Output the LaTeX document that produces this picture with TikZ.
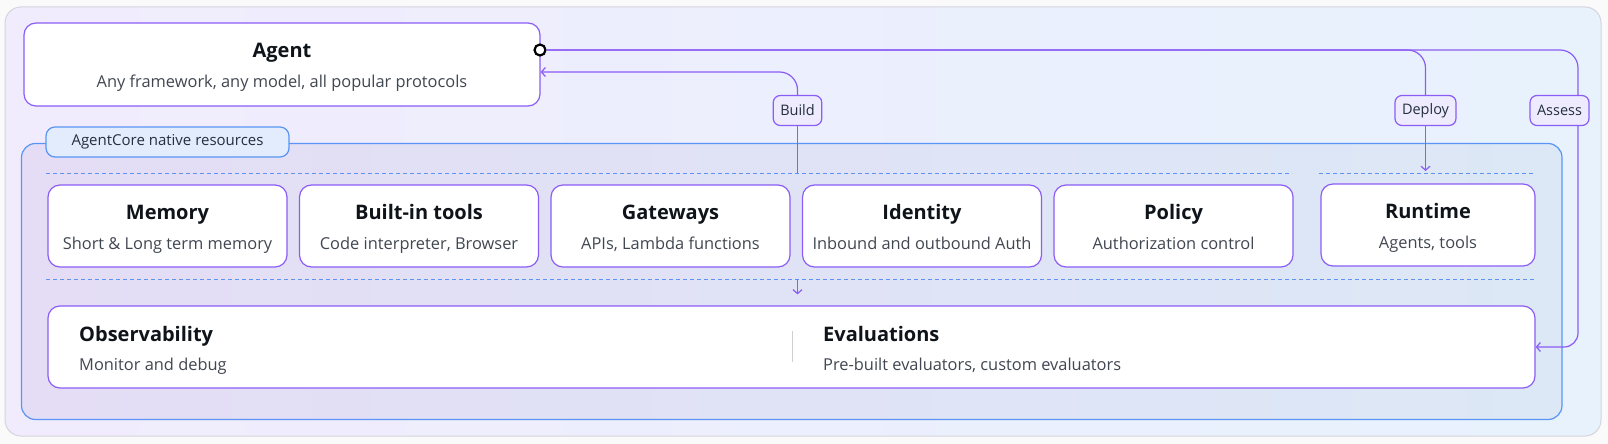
\documentclass[tikz,border=0pt]{standalone}
\usepackage{fontspec}
\setmainfont{Open Sans}
\usepackage{tikz}
\usetikzlibrary{positioning, arrows.meta}

\definecolor{purp}{HTML}{8B5CF6}
\definecolor{groupblue}{HTML}{5A95F5}
\definecolor{dashblue}{HTML}{5F93F0}
\definecolor{tagblue}{HTML}{E3ECFC}
\definecolor{taglav}{HTML}{EEEBFE}
\definecolor{outerL}{HTML}{F1ECFD}
\definecolor{outerR}{HTML}{E7F2FD}
\definecolor{innerL}{HTML}{E4DDF5}
\definecolor{innerR}{HTML}{DCE8F6}
\definecolor{outerline}{HTML}{D4D4DC}
\definecolor{bggray}{HTML}{FAFAFA}
\definecolor{ink}{HTML}{0F141A}
\definecolor{subink}{HTML}{414751}
\definecolor{navy}{HTML}{232F3E}
\definecolor{sepgray}{HTML}{D0D0D4}

\newcommand\ttlfont{\fontsize{20}{23}\selectfont\bfseries}
\newcommand\subfont{\fontsize{16.4}{19}\selectfont}
\newcommand\tagfont{\fontsize{14.5}{17}\selectfont}

\begin{document}
\begin{tikzpicture}[x=1pt, y=-1pt, >={Straight Barb[length=4pt,width=9pt]},
    box/.style={draw=purp, fill=white, line width=1.2pt, rounded corners=12pt, minimum height=82pt},
    ttl/.style={anchor=base, font=\ttlfont, text=ink, inner sep=0pt},
    sub/.style={anchor=base, font=\subfont, text=subink, inner sep=0pt},
    tag/.style={draw=purp, fill=taglav, line width=1.2pt, rounded corners=7pt, minimum height=30pt, inner xsep=7pt, font=\tagfont, text=navy},
    conn/.style={draw=purp, line width=1.2pt},
    sep/.style={draw=dashblue, line width=1pt, dash pattern=on 4pt off 3pt}]
    % Background
    \fill[bggray] (0,0) rectangle (1608,444);
    \useasboundingbox (0,0) rectangle (1608,444);
    \shadedraw[left color=outerL, right color=outerR, draw=outerline, line width=1pt, rounded corners=16pt] (5,7) rectangle (1601,436);
    % AgentCore group
    \shadedraw[left color=innerL, right color=innerR, draw=groupblue, line width=1.2pt, rounded corners=14pt] (21.5,143.5) rectangle (1562,419.5);
    \node[draw=groupblue, fill=tagblue, line width=1.2pt, rounded corners=9pt, minimum width=243pt, minimum height=30pt, font=\fontsize{15}{18}\selectfont, text=navy] (native) at (167.5,142) {AgentCore native resources};
    % Agent
    \node[box, minimum width=516pt, minimum height=83pt] (agent) at (282,64.5) {};
    \node[ttl] (agent-t) at ([yshift=7pt]agent.center) {Agent};
    \node[sub] (agent-s) at ([yshift=-22.5pt]agent.center) {Any framework, any model, all popular protocols};
    \node[circle, draw=black, line width=2.2pt, fill=white, inner sep=0pt, minimum size=11pt] (port) at (540,50) {};
    % Dashed separators
    \coordinate (dashUp) at (46,173);
    \coordinate (dashLow) at (46,279);
    \draw[sep] (dashUp) -- (1292,173);
    \draw[sep] (1319,173) -- (1534,173);
    \draw[sep] (dashLow) -- (1534,279);
    % Modules
    \foreach \nm/\cx/\ti/\su in {mem/167.5/Memory/{Short \& Long term memory},
        tools/419/Built-in tools/{Code interpreter, Browser},
        gw/670.5/Gateways/{APIs, Lambda functions},
        idn/922/Identity/{Inbound and outbound Auth},
        pol/1173.5/Policy/{Authorization control}}{
      \node[box, minimum width=239pt] (\nm) at (\cx,226) {};
      \node[ttl] (\nm-t) at ([yshift=7pt]\nm.center) {\ti};
      \node[sub] (\nm-s) at ([yshift=-23pt]\nm.center) {\su};
    }
    \node[box, minimum width=214pt] (rt) at (1428,225) {};
    \node[ttl] (rt-t) at ([yshift=7pt]rt.center) {Runtime};
    \node[sub] (rt-s) at ([yshift=-23pt]rt.center) {Agents, tools};
    % Observability and evaluations
    \node[box, minimum width=1487pt] (obs) at (791.5,347) {};
    \node[ttl, anchor=base west] (obs-t) at (79,341.5) {Observability};
    \node[sub, anchor=base west] (obs-s) at (79,370) {Monitor and debug};
    \node[ttl, anchor=base west] (eval-t) at (823,341.5) {Evaluations};
    \node[sub, anchor=base west] (eval-s) at (823,370) {Pre-built evaluators, custom evaluators};
    \draw[sepgray, line width=1pt] (792,331) -- (792,362);
    % Labels
    \node[tag] (build) at (797.5,110.5) {Build};
    \node[tag] (deploy) at (1425.5,110.5) {Deploy};
    \node[tag] (assess) at (1559.5,110.5) {Assess};
    \coordinate (asTop) at (1578,50);
    \coordinate (rtIn) at (1425.5,171);
    % Connectors
    \draw[conn, <-, rounded corners=18pt] ([yshift=-7.5pt]agent.east) -| (build.north);
    \draw[conn] (build.south) -- (build |- dashUp);
    \draw[conn, ->, shorten >=11pt] (build |- dashLow) -- (build |- obs.north);
    \draw[conn, rounded corners=18pt] (port) -- (port -| deploy) -- (deploy.north);
    \draw[conn, ->] (deploy.south) -- (rtIn);
    \draw[conn, rounded corners=18pt] (port) -- (asTop) -- (assess.north -| asTop);
    \draw[conn, ->, rounded corners=14pt] (assess.south -| asTop) |- (obs.east);
\end{tikzpicture}
\end{document}
